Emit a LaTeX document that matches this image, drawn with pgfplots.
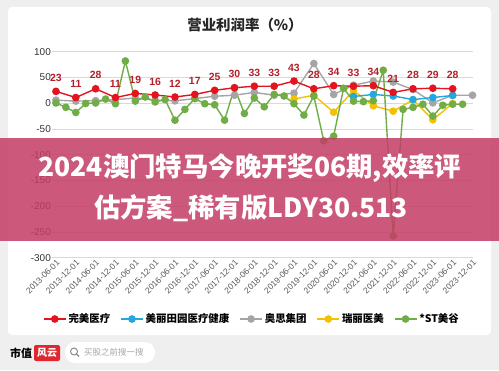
\documentclass[border=0pt]{standalone}
\usepackage{pgfplots}
\pgfplotsset{compat=1.18}
\usepackage{fontspec}
\setmainfont{Liberation Sans}
\newfontfamily\cjk{Noto Sans CJK SC}
\definecolor{cRed}{HTML}{E3141F}
\definecolor{cBlue}{HTML}{22A7E0}
\definecolor{cGray}{HTML}{A5A5A5}
\definecolor{cYel}{HTML}{F2C200}
\definecolor{cGreen}{HTML}{70AD47}
\definecolor{cLab}{HTML}{B3202A}
\definecolor{bgGray}{HTML}{EFEFEF}
\definecolor{banner}{RGB}{196,61,102}
\definecolor{logoRed}{HTML}{E0262E}
\begin{document}
\begin{tikzpicture}[x=1bp,y=1bp]
\fill[bgGray] (0,0) rectangle (499,370);
\fill[white, rounded corners=4bp] (8,35) rectangle (491,363);
\node[font=\cjk\bfseries\fontsize{14.5}{16}\selectfont, text=black!85] at (245,345) {营业利润率（\%）};
\begin{axis}[
  at={(52bp,112.3bp)}, anchor=south west,
  scale only axis, width=421bp, height=206bp,
  xmin=-0.4, xmax=42.05, ymin=-300, ymax=100,
  ytick={-300,-250,...,100},
  xtick={0,2,...,42},
  xticklabels={2013-06-01,2013-12-01,2014-06-01,2014-12-01,2015-06-01,2015-12-01,2016-06-01,2016-12-01,2017-06-01,2017-12-01,2018-06-01,2018-12-01,2019-06-01,2019-12-01,2020-06-01,2020-12-01,2021-06-01,2021-12-01,2022-06-01,2022-12-01,2023-06-01,2023-12-01},
  axis line style={draw=none},
  major tick length=0pt,
  ymajorgrids, grid style={draw=black!15, line width=0.8bp},
  yticklabel style={font=\fontsize{10}{12}\selectfont, text=black!80, inner sep=1bp},
  xticklabel style={font=\fontsize{8.5}{9}\selectfont, text=black!65, rotate=45, anchor=north east, inner sep=1bp},
  /pgf/number format/assume math mode=true,
  clip=false,
  legend style={at={(0.475,-0.2976)}, anchor=center, draw=none, fill=none, legend columns=5,
    font=\cjk\bfseries\fontsize{10.5}{12}\selectfont,
    /tikz/every even column/.append style={column sep=8bp}},
  legend image code/.code={\draw[mark repeat=2,mark phase=2] plot coordinates {(0bp,0bp)(11bp,0bp)(22bp,0bp)};},
  every axis plot/.append style={line width=1.4bp, mark=*, mark size=3.1bp},
]
\addlegendimage{cRed, line width=1.4bp, mark=*, mark size=3.1bp}
\addlegendentry{完美医疗}
\addlegendimage{cBlue, line width=1.4bp, mark=*, mark size=3.1bp}
\addlegendentry{美丽田园医疗健康}
\addlegendimage{cGray, line width=1.4bp, mark=*, mark size=3.1bp}
\addlegendentry{奥思集团}
\addlegendimage{cYel, line width=1.4bp, mark=*, mark size=3.1bp}
\addlegendentry{瑞丽医美}
\addlegendimage{cGreen, line width=1.4bp, mark=*, mark size=3.1bp}
\addlegendentry{*ST美谷}
% 奥思集团
\addplot[cGray, forget plot] table {
x y
0 6
2 4
4 5
6 7
8 10
10 6
12 4.5
14 9
16 13.5
18 15.5
20 21
22 15.5
24 19.5
26 77
28 17
30 35
32 43
34 41
36 26.5
38 0.6
40 15.5
42 15.5
};
% 瑞丽医美
\addplot[cYel, forget plot] table {
x y
24 8
26 15.5
28 -17.5
30 24.5
32 -5
34 -15.5
36 6.5
38 -32
40 -0.6
};
% 美丽田园医疗健康
\addplot[cBlue, forget plot] table {
x y
30 13
32 17
34 14
36 7
38 11
40 15
};
% *ST美谷
\addplot[cGreen, forget plot] table {
x y
0 0.5
1 -8
2 -18
3 -0.5
4 0.5
5 8
6 -1
7 82
8 4
9 12
10 2.5
11 7
12 -33
13 -12
14 9
15 -1
16 -3
17 -33
18 30
19 -20
20 10
21 -7
22 17
23 14
24 -1
25 -23
26 14
27 -73
28 -64
29 29
30 4
31 3
32 5
33 64
34 -258
35 -12
36 -8
37 -2
38 -25
39 -4
40 -2
41 -2
};
% 完美医疗
\addplot[cRed, forget plot, nodes near coords,
  every node near coord/.append style={font=\bfseries\fontsize{10.5}{12}\selectfont, text=cLab, anchor=south, yshift=9bp, inner sep=0pt}] table {
x y
0 23
2 11
4 28
6 11
8 19
10 16
12 12
14 17
16 25
18 30
20 33
22 33
24 43
26 28
28 34
30 33
32 34
34 21
36 28
38 29
40 28
};
\end{axis}
% banner
\fill[banner, fill opacity=0.85] (0,129) rectangle (499,232);
\node[font=\cjk\bfseries\fontsize{26.5}{30}\selectfont, text=white] at (250,202) {2024澳门特马今晚开奖06期,效率评};
\node[font=\cjk\bfseries\fontsize{26.5}{30}\selectfont, text=white] at (251,162) {估方案\_稀有版LDY30.513};
% footer
\node[font=\cjk\bfseries\fontsize{11}{12}\selectfont, anchor=west, inner sep=0] at (10,17) {市值};
\fill[logoRed, rounded corners=2bp] (34,9) rectangle (60,25);
\node[font=\cjk\bfseries\itshape\fontsize{10}{11}\selectfont, text=white, inner sep=0] at (47,17) {风云};
\fill[white, rounded corners=10bp] (65,7) rectangle (155,28);
\draw[black!45, line width=1bp] (74,18.5) circle (3.5bp);
\draw[black!45, line width=1.2bp] (76.5,16) -- (79,13.5);
\node[font=\cjk\fontsize{8.5}{10}\selectfont, text=black!35, anchor=west, inner sep=0] at (84,17.5) {买股之前搜一搜};
\end{tikzpicture}
\end{document}
